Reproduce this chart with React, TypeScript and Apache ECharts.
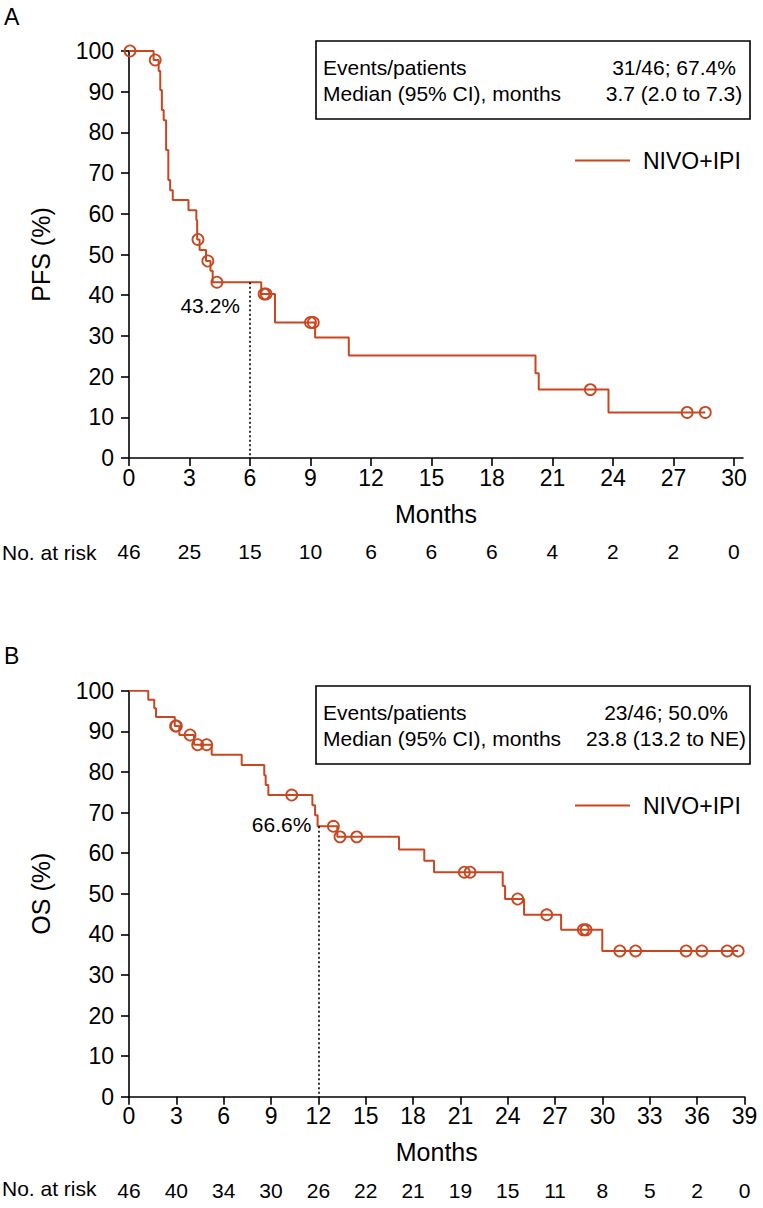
import React, { useEffect, useRef } from "react";
import * as echarts from "echarts";

const FONT = "'Liberation Sans', Arial, Helvetica, sans-serif";
const CURVE = "#c9461f";
const INK = "#000000";

// ---------- Panel A: PFS ----------
const pfsEventMonths = [0, 1.22, 1.47, 1.55, 1.63, 1.72, 1.84, 1.95, 2.04, 2.17, 2.95, 3.34, 3.38, 3.5, 3.82, 4.04, 4.15, 6.56, 7.24, 9.23, 10.9, 20.16, 20.32, 23.78];
const pfsEventValues = [100, 97.8, 95.1, 90.4, 85.5, 83.0, 75.7, 68.3, 65.8, 63.4, 60.9, 58.5, 53.7, 51.1, 48.4, 46.0, 43.2, 40.3, 33.3, 29.6, 25.2, 20.8, 16.8, 11.2];
const pfsCensorMonths = [0.05, 1.3, 3.42, 3.91, 4.36, 6.7, 6.8, 9.0, 9.14, 22.88, 27.68, 28.58];
const pfsTicks = [0, 3, 6, 9, 12, 15, 18, 21, 24, 27, 30];
const pfsAtRisk = [46, 25, 15, 10, 6, 6, 6, 4, 2, 2, 0];
const pfsMilestone = { month: 6, value: 43.2, label: "43.2%" };
const pfsBox = { events: "31/46; 67.4%", median: "3.7 (2.0 to 7.3)" };

// ---------- Panel B: OS ----------
const osEventMonths = [0, 1.22, 1.6, 1.71, 2.9, 3.19, 4.12, 5.24, 7.14, 8.57, 8.66, 8.83, 11.62, 11.79, 11.95, 13.2, 17.11, 18.71, 19.33, 23.68, 23.83, 25.03, 27.38, 29.99];
const osEventValues = [100, 97.8, 95.7, 93.5, 91.3, 89.1, 86.7, 84.2, 81.7, 79.2, 76.8, 74.3, 71.8, 69.3, 66.6, 64.0, 60.9, 58.1, 55.3, 51.9, 48.7, 44.8, 41.1, 35.9];
const osCensorMonths = [2.95, 3.0, 3.87, 4.35, 4.92, 10.31, 12.95, 13.37, 14.43, 21.25, 21.61, 24.63, 26.47, 28.79, 28.96, 31.1, 32.1, 35.3, 36.3, 37.9, 38.6];
const osTicks = [0, 3, 6, 9, 12, 15, 18, 21, 24, 27, 30, 33, 36, 39];
const osAtRisk = [46, 40, 34, 30, 26, 22, 21, 19, 15, 11, 8, 5, 2, 0];
const osMilestone = { month: 12, value: 66.6, label: "66.6%" };
const osBox = { events: "23/46; 50.0%", median: "23.8 (13.2 to NE)" };

const seriesName = "NIVO+IPI";

function stepValue(times: number[], values: number[], t: number) {
  let v = values[0];
  for (let i = 0; i < times.length; i++) {
    if (times[i] <= t) v = values[i];
  }
  return v;
}

function curveData(times: number[], values: number[], censors: number[]) {
  const d = times.map((t, i) => [t, values[i]]);
  const last = Math.max(...censors);
  if (last > times[times.length - 1]) d.push([last, values[values.length - 1]]);
  return d;
}

function censorData(times: number[], values: number[], censors: number[]) {
  return censors.map((c) => [c, stepValue(times, values, c)]);
}

const G = [
  { left: 129, top: 51, width: 614, height: 407 },
  { left: 129, top: 690.7, width: 615.5, height: 406 },
];

function xAxes(gridIndex: number, ticks: number[], max: number, risk: number[]) {
  const step = ticks[1] - ticks[0];
  return [
    {
      type: "value",
      gridIndex,
      min: 0,
      max,
      axisLine: { show: true, onZero: false, lineStyle: { color: INK, width: 1.6 } },
      axisTick: { show: true, length: 8, customValues: ticks, lineStyle: { color: INK, width: 1.6 } },
      axisLabel: { customValues: ticks, margin: 8, fontSize: 23, color: INK, fontFamily: FONT },
      splitLine: { show: false },
      name: "Months",
      nameLocation: "middle",
      nameGap: 43,
      nameTextStyle: { fontSize: 25, color: INK, fontFamily: FONT },
    },
    {
      type: "value",
      gridIndex,
      min: 0,
      max,
      position: "bottom",
      offset: 75,
      axisLine: { show: false },
      axisTick: { show: false },
      axisLabel: {
        customValues: ticks,
        margin: 8,
        fontSize: 21,
        color: INK,
        fontFamily: FONT,
        formatter: (v: number) => String(risk[Math.round(v / step)]),
      },
      splitLine: { show: false },
    },
  ];
}

function yAxis(gridIndex: number, name: string) {
  return {
    type: "value",
    gridIndex,
    min: 0,
    max: 100,
    interval: 10,
    axisLine: { show: true, lineStyle: { color: INK, width: 1.6 } },
    axisTick: { show: true, length: 8, lineStyle: { color: INK, width: 1.6 } },
    axisLabel: { margin: 15, fontSize: 23, color: INK, fontFamily: FONT },
    splitLine: { show: false },
    name,
    nameLocation: "middle",
    nameGap: 76,
    nameTextStyle: { fontSize: 25, color: INK, fontFamily: FONT },
  };
}

function panelSeries(
  idx: number,
  times: number[],
  values: number[],
  censors: number[],
  milestone: { month: number; value: number; label: string },
  labelOffset: number[],
  labelDist: number
) {
  const xi = idx * 2;
  return [
    {
      name: seriesName,
      type: "line",
      xAxisIndex: xi,
      yAxisIndex: idx,
      step: "end",
      showSymbol: false,
      symbol: "none",
      lineStyle: { color: CURVE, width: 2 },
      itemStyle: { color: CURVE },
      data: curveData(times, values, censors),
      markLine: {
        silent: true,
        symbol: ["none", "none"],
        label: { show: false },
        lineStyle: { color: INK, width: 1.6, type: [2, 2.5] },
        data: [[{ coord: [milestone.month, milestone.value] }, { coord: [milestone.month, 0] }]],
      },
      z: 3,
    },
    {
      name: "censored " + idx,
      type: "scatter",
      xAxisIndex: xi,
      yAxisIndex: idx,
      symbol: "circle",
      symbolSize: 11,
      itemStyle: { color: "rgba(0,0,0,0)", borderColor: CURVE, borderWidth: 1.8, opacity: 1 },
      data: censorData(times, values, censors),
      z: 4,
    },
    {
      name: "milestone " + idx,
      type: "scatter",
      xAxisIndex: xi,
      yAxisIndex: idx,
      symbolSize: 0,
      silent: true,
      itemStyle: { opacity: 1 },
      label: {
        show: true,
        position: "left",
        distance: labelDist,
        offset: labelOffset,
        formatter: milestone.label,
        fontSize: 21,
        color: INK,
        opacity: 1,
        fontFamily: FONT,
      },
      data: [[milestone.month, milestone.value]],
    },
  ];
}

function infoBox(top: number, box: { events: string; median: string }, valueCenter: number) {
  const left = 316;
  const w = 434;
  const h = 78;
  const txt = (text: string, x: number, y: number, align: string) => ({
    type: "text",
    x,
    y,
    z: 11,
    style: { text, fontSize: 21, fontFamily: FONT, fill: INK, align, verticalAlign: "middle" },
  });
  return [
    {
      type: "rect",
      shape: { x: left, y: top, width: w, height: h },
      style: { fill: "#fff", stroke: INK, lineWidth: 1.6 },
      z: 10,
    },
    txt("Events/patients", left + 7, top + 26, "left"),
    txt("Median (95% CI), months", left + 7, top + 52, "left"),
    txt(box.events, valueCenter, top + 26, "center"),
    txt(box.median, valueCenter, top + 52, "center"),
  ];
}

function legend(top: number) {
  return {
    data: [seriesName],
    left: 575,
    top,
    padding: 0,
    icon: "rect",
    itemWidth: 55,
    itemHeight: 2,
    selectedMode: false,
    textStyle: { fontSize: 23, color: INK, fontFamily: FONT, padding: [0, 0, 0, 8] },
  };
}

export default function App() {
  const ref = useRef<HTMLDivElement>(null);
  useEffect(() => {
    document.body.style.margin = "0";
    const chart = echarts.init(ref.current!, undefined, { renderer: "svg" });
    const option = {
      animation: false,
      backgroundColor: "#ffffff",
      textStyle: { fontFamily: FONT },
      grid: G.map((g) => ({ ...g, containLabel: false })),
      xAxis: [...xAxes(0, pfsTicks, 30.45, pfsAtRisk), ...xAxes(1, osTicks, 39, osAtRisk)],
      yAxis: [yAxis(0, "PFS (%)"), yAxis(1, "OS (%)")],
      legend: [legend(149), legend(794)],
      series: [
        ...panelSeries(0, pfsEventMonths, pfsEventValues, pfsCensorMonths, pfsMilestone, [0, 23], 10),
        ...panelSeries(1, osEventMonths, osEventValues, osCensorMonths, osMilestone, [0, -2], 7),
      ],
      graphic: [
        { type: "text", x: 4, y: 5, style: { text: "A", fontSize: 23, fontFamily: FONT, fill: INK } },
        { type: "text", x: 4, y: 644, style: { text: "B", fontSize: 23, fontFamily: FONT, fill: INK } },
        ...infoBox(41, pfsBox, 674),
        ...infoBox(686, osBox, 666),
        { type: "text", x: 2, y: 552, style: { text: "No. at risk", fontSize: 21, fontFamily: FONT, fill: INK, verticalAlign: "middle" } },
        { type: "text", x: 2, y: 1188, style: { text: "No. at risk", fontSize: 21, fontFamily: FONT, fill: INK, verticalAlign: "middle" } },
      ],
    };
    chart.setOption(option as any);
    return () => chart.dispose();
  }, []);
  return <div ref={ref} style={{ width: 763, height: 1208 }} />;
}
